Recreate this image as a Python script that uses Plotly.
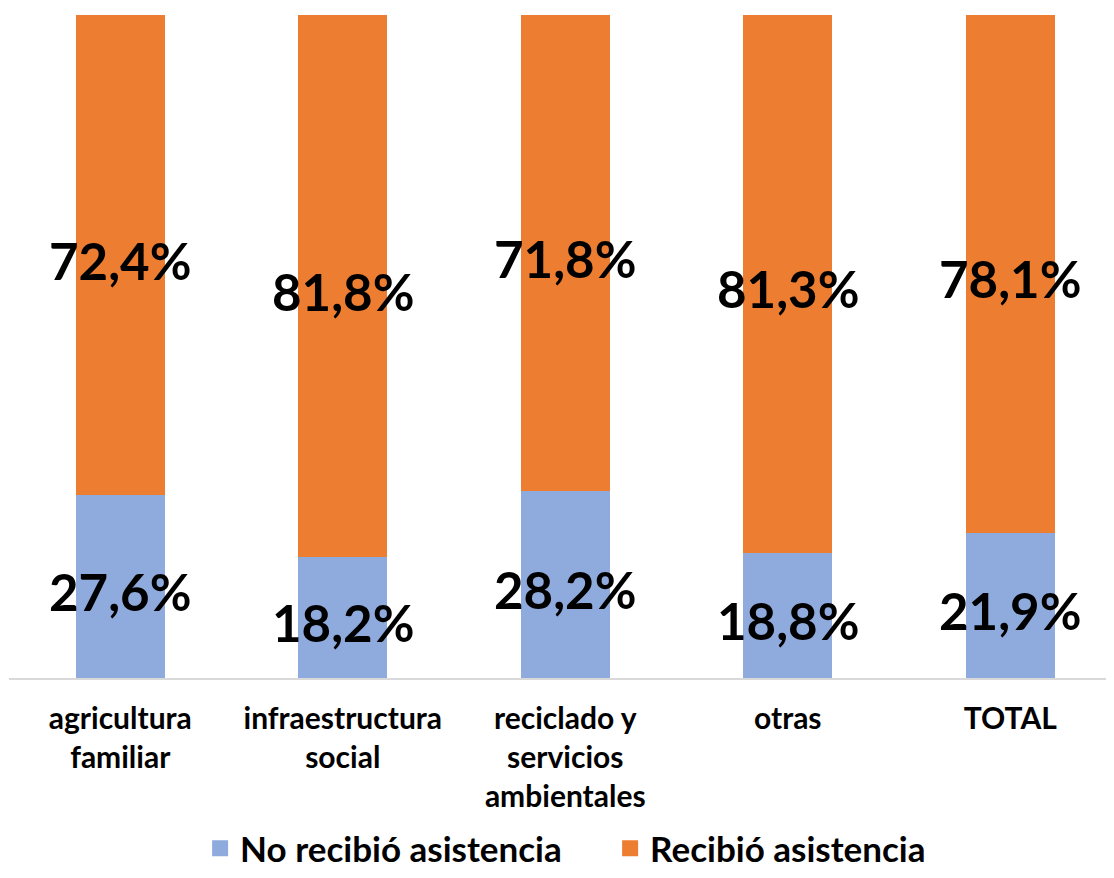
import plotly.graph_objects as go

categories = ["agricultura<br>familiar", "infraestructura<br>social",
              "reciclado y<br>servicios<br>ambientales", "otras", "TOTAL"]
no_recibio = [27.6, 18.2, 28.2, 18.8, 21.9]
recibio = [72.4, 81.8, 71.8, 81.3, 78.1]
series_names = ["No recibió asistencia", "Recibió asistencia"]

BLUE = "#8FAADC"
ORANGE = "#ED7D31"
FONT = "Lato"

def fmt(v):
    return f"{v:.1f}".replace(".", ",") + "%"

fig = go.Figure()
fig.add_trace(go.Bar(x=categories, y=no_recibio, name=series_names[0],
                     marker=dict(color=BLUE, line=dict(width=0)), width=0.4,
                     hoverinfo="skip", showlegend=False))
fig.add_trace(go.Bar(x=categories, y=recibio, name=series_names[1],
                     marker=dict(color=ORANGE, line=dict(width=0)), width=0.4,
                     hoverinfo="skip", showlegend=False))

# data labels at segment centres
lab_font = dict(family=FONT, size=51, color="#000000", weight="bold")
for cat, a, b in zip(categories, no_recibio, recibio):
    fig.add_annotation(x=cat, y=a / 2, text=fmt(a), showarrow=False,
                       font=lab_font, yshift=-5)
    fig.add_annotation(x=cat, y=a + b / 2, text=fmt(b), showarrow=False,
                       font=lab_font, yshift=-5)

# legend entries with larger square swatches
for name, col in zip(series_names, [BLUE, ORANGE]):
    fig.add_trace(go.Scatter(x=[None], y=[None], mode="markers", name=name,
                             marker=dict(symbol="square", size=16, color=col),
                             hoverinfo="skip"))

fig.update_layout(
    barmode="stack",
    width=1106, height=870,
    margin=dict(l=1, r=0, t=7, b=200),
    paper_bgcolor="white", plot_bgcolor="white",
    font=dict(family=FONT, color="#000000"),
    xaxis=dict(range=[-0.5, 4.466], showgrid=False, showline=True,
               linecolor="#D9D9D9", linewidth=2, ticks="",
               tickfont=dict(family=FONT, size=30, color="#000000", weight="bold"),
               ticklabelstandoff=13),
    yaxis=dict(range=[0, 100], visible=False, showgrid=False),
    legend=dict(orientation="h", x=0.544, xanchor="center", y=-0.3017, yanchor="bottom",
                font=dict(family=FONT, size=35, color="#000000", weight="bold"),
                traceorder="normal", itemwidth=30, entrywidth=365),
)

fig.write_html("out.html")
